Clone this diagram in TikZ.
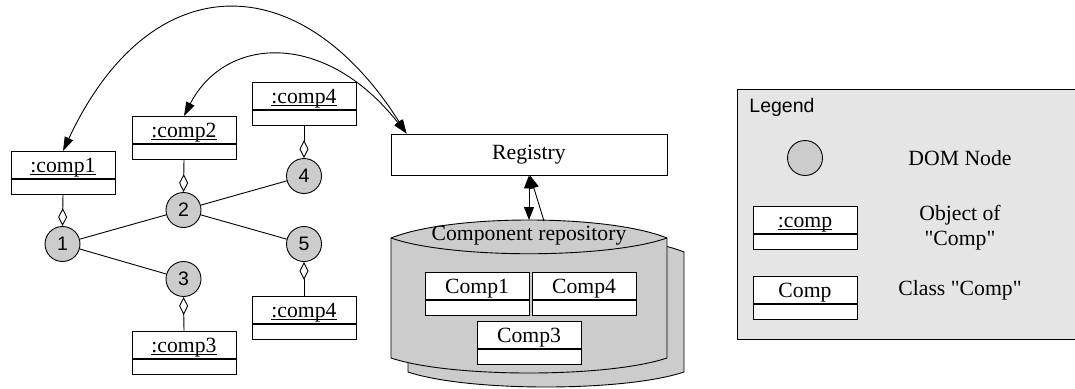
\documentclass[tikz,border=0pt]{standalone}
\usepackage{fontspec}
\setmainfont{Liberation Serif}[Ligatures=TeXOff]
\setsansfont{Liberation Sans}
\usetikzlibrary{arrows.meta}
\newcommand\myul[1]{\setbox0\hbox{#1}\rlap{\rule[-1.8pt]{\wd0}{0.9pt}}\box0}
\begin{document}
\begin{tikzpicture}[x=1pt,y=-1pt,line width=0.9pt,
  rmtext/.style={font=\fontsize{21.7}{25}\selectfont\rmfamily},
  sftext/.style={font=\fontsize{19.5}{23}\selectfont\sffamily},
  umltop/.style={draw,fill=white,minimum width=104pt,minimum height=27pt,inner sep=0pt,anchor=north,text height=17pt,text depth=1pt,rmtext},
  umlbot/.style={draw,fill=white,minimum width=104pt,minimum height=15pt,inner sep=0pt,anchor=north},
  dom/.style={circle,draw,fill=gray!40,minimum size=35pt,inner sep=0pt,sftext},
  agg/.style={-{Diamond[length=18pt,width=9pt,fill=white]}},
  aggr/.style={{Diamond[length=18pt,width=9pt,fill=white]}-},
  >={Triangle[length=14pt,width=9pt]},
  repo/.style={draw,fill=gray!40},
  legendbg/.style={fill=gray!20}]
\useasboundingbox (0,0) rectangle (1075,388);

% ---- legend
\fill[legendbg] (737,89) rectangle (1076,339);
\draw (1076,89) -- (737,89) -- (737,339) -- (1076,339);
\node[sftext,anchor=west,inner sep=0pt] (legt) at (749,107) {Legend};
\node[dom] (ldom) at (805,158) {};
\node[rmtext] (ldomt) at (960,158) {DOM Node};
\node[umltop] (lobj) at (805,206) {\myul{:comp}};
\node[umlbot] (lobjb) at (lobj.south) {};
\node[rmtext,align=center] (lobjt) at (960,228) {Object of\\"Comp"};
\node[umltop] (lcls) at (805,276) {Comp};
\node[umlbot] (lclsb) at (lcls.south) {};
\node[rmtext] (lclst) at (960,290) {Class "Comp"};

% ---- repository (cylinder)
\path[repo] (408,252) .. controls (468,228) and (624,228) .. (684,252)
  -- (684,372) .. controls (624,392) and (468,392) .. (408,372) -- cycle;
\path[repo] (391,238) .. controls (451,214) and (607,214) .. (667,238)
  -- (667,358) .. controls (607,378) and (451,378) .. (391,358) -- cycle;
\draw (391,238) .. controls (451,259) and (607,259) .. (667,238);
\node[rmtext] (repot) at (529,236) {Component repository};
\coordinate (rtop) at (529,220);
\coordinate (rtop2) at (544,221);

\node[umltop] (k1) at (477,272) {Comp1};
\node[umlbot] (k1b) at (k1.south) {};
\node[umltop] (k4) at (584,272) {Comp4};
\node[umlbot] (k4b) at (k4.south) {};
\node[umltop] (k3) at (529,321) {Comp3};
\node[umlbot] (k3b) at (k3.south) {};

% ---- registry
\node[draw,fill=white,minimum width=276pt,minimum height=41pt,inner sep=0pt,rmtext] (reg) at (529,154.5) {Registry};
\coordinate (regin) at ([xshift=16pt]reg.north west);

% ---- DOM tree
\node[dom] (n1) at (62.5,244) {1};
\node[dom] (n2) at (183.5,210) {2};
\node[dom] (n3) at (183.5,279) {3};
\node[dom] (n4) at (304,176) {4};
\node[dom] (n5) at (304,244) {5};

\node[umltop] (c1) at (63,151) {\myul{:comp1}};
\node[umlbot] (c1b) at (c1.south) {};
\node[umltop] (c2) at (184,116) {\myul{:comp2}};
\node[umlbot] (c2b) at (c2.south) {};
\node[umltop] (c4a) at (304,82) {\myul{:comp4}};
\node[umlbot] (c4ab) at (c4a.south) {};
\node[umltop] (c3) at (184,331) {\myul{:comp3}};
\node[umlbot] (c3b) at (c3.south) {};
\node[umltop] (c4b) at (304,296) {\myul{:comp4}};
\node[umlbot] (c4bb) at (c4b.south) {};

\draw (n1) -- (n2);
\draw (n1) -- (n3);
\draw (n2) -- (n4);
\draw (n2) -- (n5);
\draw[agg] (c1b.south) -- (n1.north);
\draw[agg] (c2b.south) -- (n2.north);
\draw[agg] (c4ab.south) -- (n4.north);
\draw[aggr] (n3.south) -- (c3.north);
\draw[aggr] (n5.south) -- (c4b.north);

% ---- arcs
\draw[<->] (regin) .. controls +(-107,-169) and +(87,-186) .. (c1.north);
\draw[<->] (regin) .. controls +(-82,-104) and +(41,-80) .. (c2.north);

% ---- registry <-> repository
\draw[<->,>={Triangle[length=13pt,width=10pt]}] (reg.south) -- (rtop);
\draw[->,>={Triangle[length=13pt,width=10pt]}] (rtop2) -- ([xshift=1pt]reg.south);
\end{tikzpicture}
\end{document}
